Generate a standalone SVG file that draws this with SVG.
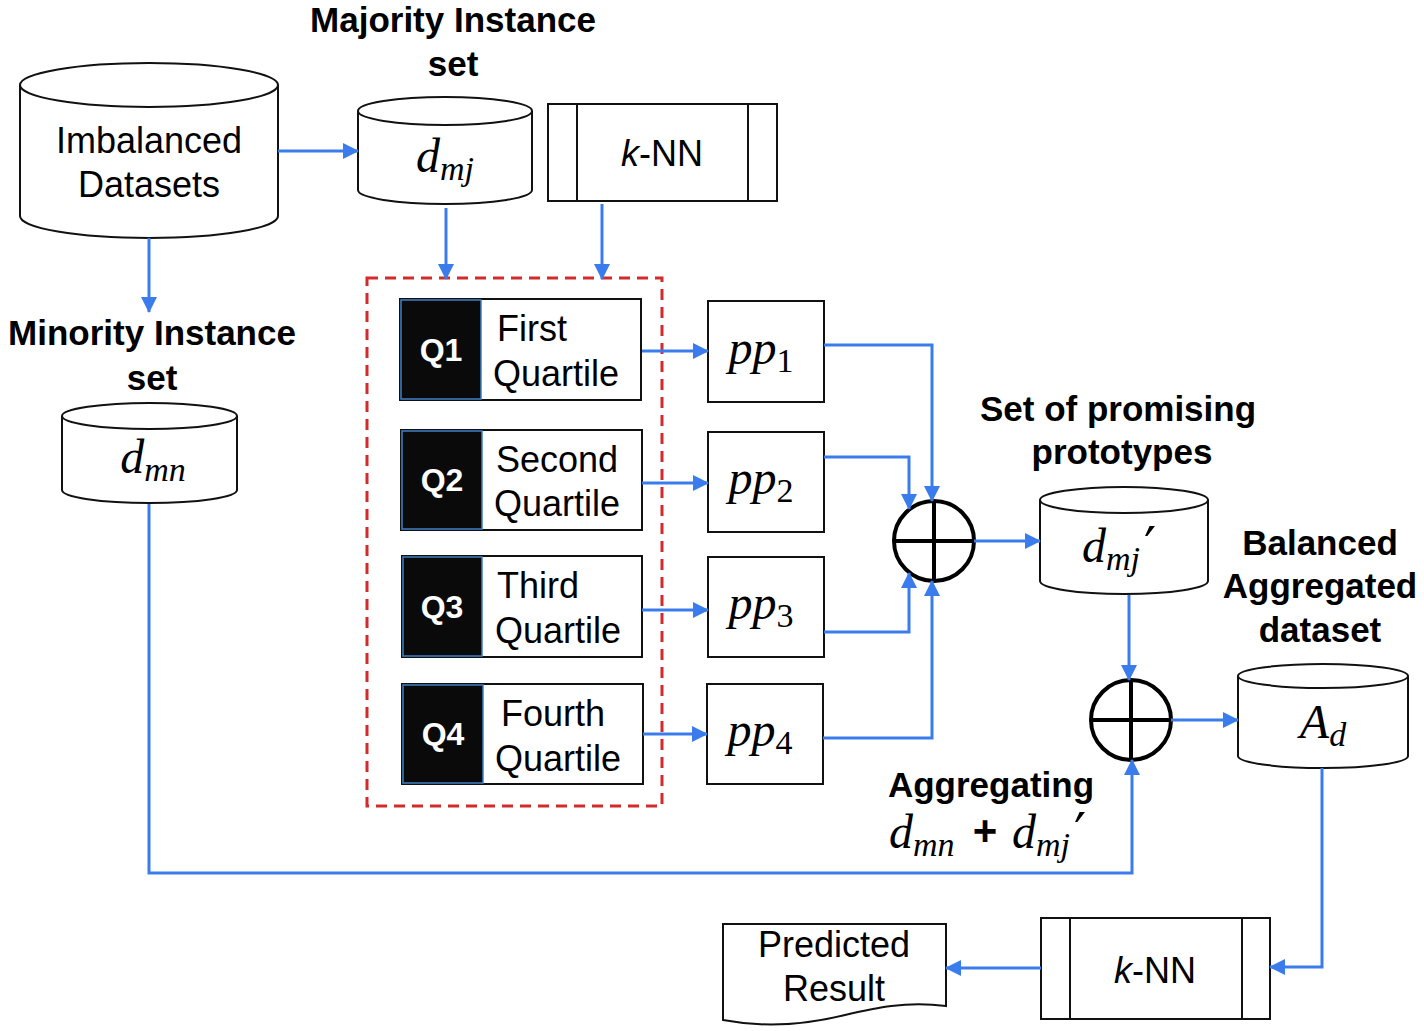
<svg xmlns="http://www.w3.org/2000/svg" width="1424" height="1031" viewBox="0 0 1424 1031">
<defs>
<marker id="ah" markerUnits="userSpaceOnUse" markerWidth="16" markerHeight="16" viewBox="0 0 16 16" refX="15" refY="8" orient="auto">
<path d="M0,0 L16,8 L0,16 Z" fill="#3b7cec"/>
</marker>
<style>
.sh{fill:#fff;stroke:#111;stroke-width:2}
.cn{fill:none;stroke:#3b7cec;stroke-width:3}
.t{font-family:"Liberation Sans",Arial,sans-serif;font-size:36px;fill:#000}
.b{font-family:"Liberation Sans",Arial,sans-serif;font-size:35px;font-weight:bold;fill:#000}
.q{font-family:"Liberation Sans",Arial,sans-serif;font-size:32px;font-weight:bold;fill:#fff}
.m{font-family:"Liberation Serif","Times New Roman",serif;font-style:italic;font-size:48px;fill:#000}
.s{font-size:34px}
.u{font-style:normal}
.pr{font-family:"DejaVu Serif",serif;font-size:54px;fill:#000}
.pl{fill:#fff;stroke:#000;stroke-width:4}
</style>
</defs>

<g id="title-majority">
<text class="b" x="453" y="32" text-anchor="middle">Majority Instance</text>
<text class="b" x="453" y="76" text-anchor="middle">set</text>
</g>

<g id="imbalanced">
<path class="sh" d="M20,85 A129,22 0 0 1 278,85 V216 A129,22 0 0 1 20,216 Z"/>
<path class="sh" d="M20,85 A129,22 0 0 0 278,85" fill="none"/>
<text class="t" x="149" y="153" text-anchor="middle">Imbalanced</text>
<text class="t" x="149" y="197" text-anchor="middle">Datasets</text>
</g>

<g id="dmj">
<path class="sh" d="M358,111 A87,14 0 0 1 532,111 V190 A87,14 0 0 1 358,190 Z"/>
<path class="sh" d="M358,111 A87,14 0 0 0 532,111" fill="none"/>
<text class="m" x="445" y="172" text-anchor="middle">d<tspan class="s" dy="8">mj</tspan></text>
</g>

<g id="knn1">
<rect class="sh" x="548" y="104" width="229" height="97"/>
<line class="sh" x1="577" y1="104" x2="577" y2="201"/>
<line class="sh" x1="748" y1="104" x2="748" y2="201"/>
<text class="t" x="662" y="166" text-anchor="middle"><tspan font-style="italic">k</tspan>-NN</text>
</g>

<g id="title-minority">
<text class="b" x="152" y="345" text-anchor="middle">Minority Instance</text>
<text class="b" x="152" y="390" text-anchor="middle">set</text>
</g>

<g id="dmn">
<path class="sh" d="M62,416 A87.5,13 0 0 1 237,416 V490 A87.5,13 0 0 1 62,490 Z"/>
<path class="sh" d="M62,416 A87.5,13 0 0 0 237,416" fill="none"/>
<text class="m" x="153" y="473" text-anchor="middle">d<tspan class="s" dy="8">mn</tspan></text>
</g>

<g id="quartile-group">
<rect x="367" y="278" width="295" height="528" fill="none" stroke="#d12b2b" stroke-width="3" stroke-dasharray="11 7"/>
</g>

<g id="q1">
<rect class="sh" x="400" y="299" width="241" height="101"/>
<rect x="401" y="300" width="80" height="99" fill="#0a0a0a" stroke="#3f7fc4" stroke-width="1.5"/>
<text class="q" x="441" y="361" text-anchor="middle">Q1</text>
<text class="t" x="497" y="341">First</text>
<text class="t" x="493" y="386">Quartile</text>
</g>
<g id="q2">
<rect class="sh" x="401" y="430" width="241" height="100"/>
<rect x="402" y="431" width="80" height="98" fill="#0a0a0a" stroke="#3f7fc4" stroke-width="1.5"/>
<text class="q" x="442" y="491" text-anchor="middle">Q2</text>
<text class="t" x="496" y="472">Second</text>
<text class="t" x="494" y="516">Quartile</text>
</g>
<g id="q3">
<rect class="sh" x="402" y="556" width="240" height="101"/>
<rect x="403" y="557" width="79" height="99" fill="#0a0a0a" stroke="#3f7fc4" stroke-width="1.5"/>
<text class="q" x="442" y="618" text-anchor="middle">Q3</text>
<text class="t" x="497" y="598">Third</text>
<text class="t" x="495" y="643">Quartile</text>
</g>
<g id="q4">
<rect class="sh" x="402" y="684" width="241" height="100"/>
<rect x="403" y="685" width="80" height="98" fill="#0a0a0a" stroke="#3f7fc4" stroke-width="1.5"/>
<text class="q" x="443" y="745" text-anchor="middle">Q4</text>
<text class="t" x="501" y="726">Fourth</text>
<text class="t" x="495" y="771">Quartile</text>
</g>

<g id="pp1">
<rect class="sh" x="708" y="301" width="116" height="101"/>
<text class="m" x="761" y="364" text-anchor="middle">pp<tspan class="s u" dy="8">1</tspan></text>
</g>
<g id="pp2">
<rect class="sh" x="708" y="432" width="116" height="100"/>
<text class="m" x="761" y="494" text-anchor="middle">pp<tspan class="s u" dy="8">2</tspan></text>
</g>
<g id="pp3">
<rect class="sh" x="708" y="557" width="116" height="100"/>
<text class="m" x="761" y="619" text-anchor="middle">pp<tspan class="s u" dy="8">3</tspan></text>
</g>
<g id="pp4">
<rect class="sh" x="707" y="684" width="116" height="100"/>
<text class="m" x="760" y="746" text-anchor="middle">pp<tspan class="s u" dy="8">4</tspan></text>
</g>

<g id="plus1">
<circle class="pl" cx="934" cy="541" r="40"/>
<line x1="894" y1="541" x2="974" y2="541" stroke="#000" stroke-width="4"/>
<line x1="934" y1="501" x2="934" y2="581" stroke="#000" stroke-width="4"/>
</g>

<g id="title-promising">
<text class="b" x="1118" y="421" text-anchor="middle">Set of promising</text>
<text class="b" x="1122" y="464" text-anchor="middle">prototypes</text>
</g>

<g id="dmj-prime">
<path class="sh" d="M1040,500 A84,13 0 0 1 1208,500 V581 A84,13 0 0 1 1040,581 Z"/>
<path class="sh" d="M1040,500 A84,13 0 0 0 1208,500" fill="none"/>
<text class="m" x="1082" y="562">d<tspan class="s" dy="8">mj</tspan></text>
<text class="pr" x="1144" y="566">′</text>
</g>

<g id="title-balanced">
<text class="b" x="1320" y="555" text-anchor="middle">Balanced</text>
<text class="b" x="1320" y="598" text-anchor="middle">Aggregated</text>
<text class="b" x="1320" y="642" text-anchor="middle">dataset</text>
</g>

<g id="plus2">
<circle class="pl" cx="1131" cy="720" r="40"/>
<line x1="1091" y1="720" x2="1171" y2="720" stroke="#000" stroke-width="4"/>
<line x1="1131" y1="680" x2="1131" y2="760" stroke="#000" stroke-width="4"/>
</g>

<g id="ad">
<path class="sh" d="M1238,676 A85,12 0 0 1 1408,676 V756 A85,12 0 0 1 1238,756 Z"/>
<path class="sh" d="M1238,676 A85,12 0 0 0 1408,676" fill="none"/>
<text class="m" x="1323" y="738" text-anchor="middle">A<tspan class="s" dy="8">d</tspan></text>
</g>

<g id="aggregating-label">
<text class="b" x="991" y="797" text-anchor="middle">Aggregating</text>
<text class="m" x="889" y="848">d<tspan class="s" dy="8">mn</tspan></text>
<text x="985" y="845" text-anchor="middle" font-family="Liberation Sans,Arial,sans-serif" font-weight="bold" font-size="42">+</text>
<text class="m" x="1012" y="848">d<tspan class="s" dy="8">mj</tspan></text>
<text class="pr" x="1074" y="852">′</text>
</g>

<g id="knn2">
<rect class="sh" x="1041" y="918" width="229" height="101"/>
<line class="sh" x1="1070" y1="918" x2="1070" y2="1019"/>
<line class="sh" x1="1242" y1="918" x2="1242" y2="1019"/>
<text class="t" x="1155" y="983" text-anchor="middle"><tspan font-style="italic">k</tspan>-NN</text>
</g>

<g id="predicted">
<path class="sh" d="M723,924 H946 V1006 C905,1001 875,1008 845,1015 C805,1025 765,1028 723,1020 Z"/>
<text class="t" x="834" y="957" text-anchor="middle">Predicted</text>
<text class="t" x="834" y="1001" text-anchor="middle">Result</text>
</g>

<g id="connectors">
<path class="cn" d="M278,151 H358" marker-end="url(#ah)"/>
<path class="cn" d="M446,208 V279" marker-end="url(#ah)"/>
<path class="cn" d="M602,204 V279" marker-end="url(#ah)"/>
<path class="cn" d="M149,238 V312" marker-end="url(#ah)"/>
<path class="cn" d="M642,351 H708" marker-end="url(#ah)"/>
<path class="cn" d="M642,483 H708" marker-end="url(#ah)"/>
<path class="cn" d="M642,610 H708" marker-end="url(#ah)"/>
<path class="cn" d="M643,734 H707" marker-end="url(#ah)"/>
<path class="cn" d="M824,345 H932 V501" marker-end="url(#ah)"/>
<path class="cn" d="M824,457 H909 V509" marker-end="url(#ah)"/>
<path class="cn" d="M824,632 H909 V573" marker-end="url(#ah)"/>
<path class="cn" d="M823,738 H932 V581" marker-end="url(#ah)"/>
<path class="cn" d="M974,541 H1040" marker-end="url(#ah)"/>
<path class="cn" d="M1129,595 V680" marker-end="url(#ah)"/>
<path class="cn" d="M1171,720 H1238" marker-end="url(#ah)"/>
<path class="cn" d="M149,504 V873 H1132 V760" marker-end="url(#ah)"/>
<path class="cn" d="M1322,768 V967 H1270" marker-end="url(#ah)"/>
<path class="cn" d="M1041,968 H946" marker-end="url(#ah)"/>
</g>
</svg>
